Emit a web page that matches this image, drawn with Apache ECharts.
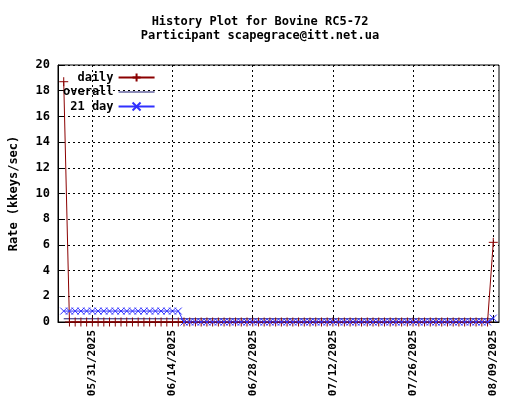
<!DOCTYPE html>
<html>
<head>
<meta charset="utf-8">
<script src="https://cdn.jsdelivr.net/npm/echarts@6/dist/echarts.min.js"></script>
<style>html,body{margin:0;padding:0;background:#fff}</style>
</head>
<body>
<div id="chart" style="width:520px;height:400px"></div>
<script>
// days 05/26/2025 .. 08/09/2025
const startDate = new Date(Date.UTC(2025, 4, 26));
const tickDays = [5, 19, 33, 47, 61, 75];
const yTicks = [0, 2, 4, 6, 8, 10, 12, 14, 16, 18, 20];

const daily = [
    18.7, 0, 0, 0, 0, 0, 0, 0, 0, 0, 0, 0, 0, 0, 0, 0, 0, 0, 0, 0,
    0, 0, 0, 0, 0, 0, 0, 0, 0, 0, 0, 0, 0, 0, 0, 0, 0, 0, 0, 0,
    0, 0, 0, 0, 0, 0, 0, 0, 0, 0, 0, 0, 0, 0, 0, 0, 0, 0, 0, 0,
    0, 0, 0, 0, 0, 0, 0, 0, 0, 0, 0, 0, 0, 0, 0, 6.2
];
const overall = [
    0.25, 0.25, 0.25, 0.25, 0.25, 0.25, 0.25, 0.25, 0.25, 0.25, 0.25, 0.25, 0.25, 0.25, 0.25, 0.25, 0.25, 0.25, 0.25, 0.25,
    0.25, 0.25, 0.25, 0.25, 0.25, 0.25, 0.25, 0.25, 0.25, 0.25, 0.25, 0.25, 0.25, 0.25, 0.25, 0.25, 0.25, 0.25, 0.25, 0.25,
    0.25, 0.25, 0.25, 0.25, 0.25, 0.25, 0.25, 0.25, 0.25, 0.25, 0.25, 0.25, 0.25, 0.25, 0.25, 0.25, 0.25, 0.25, 0.25, 0.25,
    0.25, 0.25, 0.25, 0.25, 0.25, 0.25, 0.25, 0.25, 0.25, 0.25, 0.25, 0.25, 0.25, 0.25, 0.25, 0.25
];
const day21 = [
    0.85, 0.85, 0.85, 0.85, 0.85, 0.85, 0.85, 0.85, 0.85, 0.85, 0.85, 0.85, 0.85, 0.85, 0.85, 0.85, 0.85, 0.85, 0.85, 0.85,
    0.85, 0, 0, 0, 0, 0, 0, 0, 0, 0, 0, 0, 0, 0, 0, 0, 0, 0, 0, 0,
    0, 0, 0, 0, 0, 0, 0, 0, 0, 0, 0, 0, 0, 0, 0, 0, 0, 0, 0, 0,
    0, 0, 0, 0, 0, 0, 0, 0, 0, 0, 0, 0, 0, 0, 0, 0.3
];

const mono = 'DejaVu Sans Mono';
const pad = n => String(n).padStart(2, '0');
const dayLabel = i => {
    const d = new Date(startDate.getTime() + i * 86400000);
    return pad(d.getUTCMonth() + 1) + '/' + pad(d.getUTCDate()) + '/' + d.getUTCFullYear();
};
const pairs = arr => arr.map((v, i) => [i, v]);

const chart = echarts.init(document.getElementById('chart'));
chart.setOption({
    animation: false,
    title: {
        text: 'History Plot for Bovine RC5-72\nParticipant scapegrace@itt.net.ua',
        left: 'center', top: 10,
        textStyle: { fontFamily: mono, fontSize: 12, fontWeight: 'bold', color: '#000', lineHeight: 14 }
    },
    legend: {
        orient: 'vertical', left: 58, top: 66, align: 'right',
        itemWidth: 36, itemHeight: 10, itemGap: 2,
        textStyle: { fontFamily: mono, fontSize: 12, fontWeight: 'bold', color: '#000' },
        data: [
            'daily',
            { name: 'overall', icon: 'path://M0,4.5L40,4.5L40,5.5L0,5.5Z', itemStyle: { color: '#191970' } },
            '21 day'
        ]
    },
    grid: { left: 55, right: 21, top: 65, bottom: 78, show: true, borderColor: '#000', borderWidth: 1 },
    xAxis: {
        type: 'value', min: -1, max: 76,
        axisLine: { onZero: false, lineStyle: { color: '#000' } },
        axisTick: { inside: true, length: 5, customValues: tickDays, lineStyle: { color: '#000' } },
        splitLine: { show: true, lineStyle: { color: '#000', type: [2, 3] } },
        axisLabel: {
            customValues: tickDays, rotate: 90, formatter: v => dayLabel(v),
            fontFamily: mono, fontSize: 11, fontWeight: 'bold', color: '#000'
        }
    },
    yAxis: {
        type: 'value', min: 0, max: 20, interval: 2,
        name: 'Rate (kkeys/sec)', nameLocation: 'middle', nameGap: 38,
        nameTextStyle: { fontFamily: mono, fontSize: 12, fontWeight: 'bold', color: '#000' },
        axisLine: { show: true, onZero: false, lineStyle: { color: '#000' } },
        axisTick: { show: true, inside: true, length: 5, lineStyle: { color: '#000' } },
        splitLine: { show: true, lineStyle: { color: '#000', type: [2, 3] } },
        axisLabel: { fontFamily: mono, fontSize: 12, fontWeight: 'bold', color: '#000', formatter: v => yTicks.includes(v) ? String(v) : '' }
    },
    series: [
        {
            name: 'daily', type: 'line', data: pairs(daily), color: '#8b0000',
            symbol: 'path://M0,-5L0,5M-5,0L5,0', symbolSize: 9,
            itemStyle: { color: 'none', borderColor: '#8b0000', borderWidth: 1 },
            lineStyle: { width: 1, color: '#8b0000' }, z: 3
        },
        {
            name: 'overall', type: 'line', data: pairs(overall), color: '#191970',
            symbol: 'none', lineStyle: { width: 1, color: '#191970' }, z: 2
        },
        {
            name: '21 day', type: 'line', data: pairs(day21), color: '#3030ff',
            symbol: 'path://M-5,-5L5,5M-5,5L5,-5', symbolSize: 7,
            itemStyle: { color: 'none', borderColor: '#3030ff', borderWidth: 1 },
            lineStyle: { width: 1, color: '#3030ff' }, z: 4
        }
    ]
});
</script>
</body>
</html>
